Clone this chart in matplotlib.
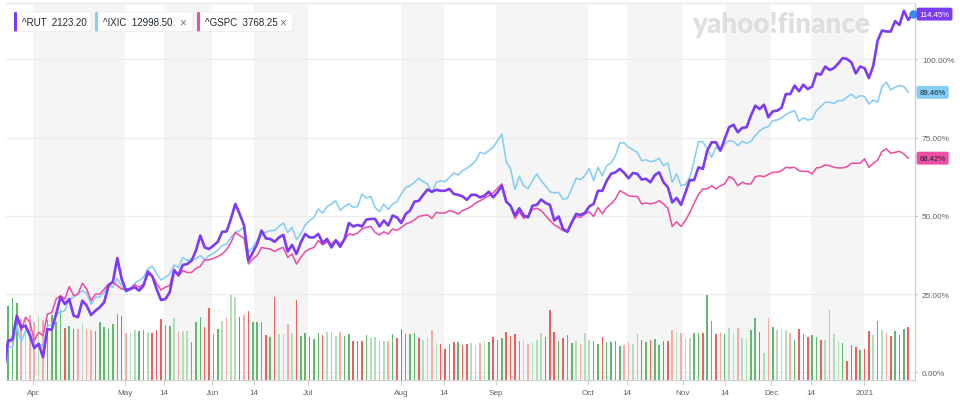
import numpy as np
import pandas as pd
import matplotlib
matplotlib.use("Agg")
import matplotlib.pyplot as plt
from matplotlib.patches import FancyBboxPatch
import matplotlib.transforms as mtransforms

plt.rcParams['font.family'] = ['Liberation Sans', 'DejaVu Sans']

# ---------------- data ----------------
holidays = ["2020-04-10", "2020-05-25", "2020-07-03", "2020-09-07",
            "2020-11-26", "2020-12-25", "2021-01-01"]
dates = pd.bdate_range("2020-03-23", "2021-01-15")
dates = dates[~dates.isin(pd.to_datetime(holidays))]

tick_dates = ["2020-04-01", "2020-05-01", "2020-05-14", "2020-06-01", "2020-06-14",
              "2020-07-01", "2020-08-01", "2020-08-14", "2020-09-01", "2020-10-01",
              "2020-10-14", "2020-11-01", "2020-11-14", "2020-12-01", "2020-12-14",
              "2021-01-01"]
tick_labels = ["Apr", "May", "14", "Jun", "14", "Jul", "Aug", "14", "Sep", "Oct",
               "14", "Nov", "14", "Dec", "14", "2021"]
shaded_spans = [("2020-04-01", "2020-05-01"), ("2020-05-14", "2020-06-01"),
                ("2020-06-14", "2020-07-01"), ("2020-08-01", "2020-08-14"),
                ("2020-09-01", "2020-10-01"), ("2020-10-14", "2020-11-01"),
                ("2020-11-14", "2020-12-01"), ("2020-12-14", "2021-01-01")]

symbols = ["^RUT", "^IXIC", "^GSPC"]
last_prices = ["2123.20", "12998.50", "3768.25"]

# percent change since start
rut = [0,
       10.1, 10.6, 18.1, 14.4, 14.9, 11.7, 7.7, 9.1, 4.8, 13.8, 13.6, 18.6, 24.0, 21.8, 23.4,
       18.1, 17.6, 22.9, 21.3, 18.3, 19.7, 20.8, 22.4, 27.7, 29.0, 36.5, 29.8, 26.1, 26.6,
       27.2, 26.1, 27.7, 32.2, 30.7, 26.6, 23.1, 23.4, 25.6, 32.5, 31.1, 34.3, 34.6, 35.7,
       38.9, 43.7, 39.9, 39.4, 40.5, 41.7, 44.9, 45.0,
       49.0, 53.8, 50.6, 46.9, 35.7, 38.3, 41.0, 45.3, 42.8, 42.6, 41.7, 43.1, 43.9, 38.6,
       40.7, 37.8, 41.5, 44.2, 43.1, 43.1, 44.2, 41.3, 42.6, 39.9, 42.1, 40.1, 42.6, 47.7,
       46.6, 47.1, 46.6, 48.8, 49.0, 49.0, 46.6, 48.5, 46.9, 50.1, 49.5, 47.7, 50.6, 51.7,
       54.5, 54.8, 56.7, 58.4, 57.7, 58.3, 58.0, 58.0, 58.6, 57.0, 56.7,
       56.2, 55.1, 56.7, 56.7, 55.9, 56.4, 57.7, 55.9, 57.5, 59.6, 54.5, 53.2, 50.1, 52.4,
       50.1, 49.5, 53.2, 53.5, 55.2, 54.1, 53.5, 48.5, 49.8, 45.8, 44.9, 47.9, 50.6, 50.3,
       50.9, 53.0, 53.8, 58.0, 58.0, 61.2, 63.4, 63.9, 65.0, 63.7, 62.0, 63.7, 63.4, 61.6,
       61.8, 60.7, 63.0, 63.9, 60.7, 59.1, 54.3, 55.7, 53.5, 57.3,
       61.4, 61.4, 65.5, 65.0, 70.8, 73.5, 73.5, 70.8, 74.5, 78.3, 79.1, 76.7, 78.1, 78.3,
       82.0, 85.2, 84.1, 85.5, 81.5, 83.4, 83.6, 84.5, 88.9, 88.9, 91.6, 89.8, 91.9, 90.5,
       91.3, 95.5, 95.1, 97.7, 96.6, 97.2, 98.7, 100.4, 100.1, 99.0, 95.5, 97.7, 97.2, 94.0,
       98.0, 106.0, 109.2, 108.9, 108.9, 112.2, 111.0, 115.5, 112.6, 114.45]

ixic = [0,
        8.3, 8.0, 14.9, 9.6, 13.3, 12.8, 8.5, 9.1, 8.5, 14.9, 15.1, 18.6, 19.2, 19.7, 23.4,
        24.0, 25.0, 26.1, 25.2, 21.8, 24.0, 24.0, 25.6, 27.7, 27.2, 30.0, 27.7, 25.6, 26.6,
        28.4, 29.3, 30.4, 33.0, 33.9, 31.6, 29.5, 30.4, 31.4, 34.3, 33.5, 36.7, 35.7, 36.2,
        36.2, 37.3, 36.0, 37.3, 38.0, 39.1, 40.5, 41.0,
        43.1, 44.7, 45.3, 46.3, 38.3, 39.9, 42.1, 44.7, 44.7, 45.3, 45.3, 46.6, 47.7, 44.7,
        46.3, 42.4, 44.2, 47.1, 48.5, 49.5, 52.2, 50.9, 53.0, 53.8, 54.8, 51.7, 53.0, 53.8,
        52.7, 53.0, 57.0, 55.6, 56.2, 52.7, 51.3, 53.8, 52.0, 53.8, 54.5, 57.0, 59.1, 59.6,
        60.7, 62.0, 60.9, 60.2, 57.3, 60.7, 61.2, 60.9, 62.3, 63.7, 63.0,
        64.4, 65.2, 66.2, 67.6, 70.3, 69.8, 70.8, 71.9, 74.0, 76.1, 67.3, 65.0, 58.4, 62.6,
        59.6, 58.6, 61.2, 63.4, 61.2, 59.6, 57.7, 57.3, 57.5, 55.2, 55.6, 58.6, 62.0, 61.6,
        62.8, 65.2, 61.2, 65.5, 62.8, 66.0, 66.9, 69.2, 73.3, 73.3, 71.9, 71.1, 70.3, 67.6,
        67.9, 67.3, 67.6, 68.4, 66.0, 66.9, 60.7, 63.4, 59.6, 60.0,
        62.3, 67.6, 73.7, 73.7, 71.4, 68.7, 71.9, 70.8, 72.9, 74.0, 73.8, 72.4, 73.8, 73.2,
        73.8, 75.6, 77.2, 78.1, 78.5, 80.4, 80.6, 81.3, 82.3, 83.1, 83.6, 80.2, 81.3, 80.6,
        80.9, 83.6, 84.9, 86.3, 86.3, 85.9, 86.8, 86.8, 87.9, 88.9, 87.6, 88.4, 88.1, 85.7,
        87.0, 86.3, 91.3, 92.7, 90.2, 91.1, 91.6, 91.3, 89.46]

gspc = [0,
        9.6, 10.1, 18.1, 13.3, 17.6, 16.0, 10.1, 12.8, 11.7, 18.6, 19.0, 23.4, 24.5, 23.4,
        27.4, 24.5, 25.0, 28.5, 26.6, 22.9, 25.0, 25.0, 26.6, 28.2, 28.8, 27.7, 26.6, 26.6,
        26.9, 28.0, 27.2, 28.2, 31.1, 30.9, 28.4, 26.3, 27.2, 27.7, 33.0, 30.7, 32.5, 31.9,
        31.9, 33.2, 33.9, 35.9, 35.9, 36.4, 37.0, 37.8, 39.2,
        41.5, 44.7, 43.7, 42.8, 34.6, 36.2, 37.3, 39.9, 39.6, 39.4, 38.6, 39.4, 39.9, 36.7,
        37.8, 34.6, 36.7, 38.6, 39.4, 39.9, 42.1, 40.7, 41.7, 41.0, 42.4, 41.0, 42.4, 44.2,
        43.9, 44.5, 45.8, 46.3, 46.6, 44.7, 43.9, 44.9, 44.2, 45.8, 45.3, 46.3, 47.4, 47.9,
        48.7, 49.8, 50.1, 50.3, 49.2, 51.1, 50.9, 50.9, 51.7, 51.3, 50.6,
        51.7, 52.2, 53.0, 54.1, 54.8, 55.6, 56.4, 57.3, 58.8, 60.2, 54.8, 53.0, 49.2, 51.3,
        49.2, 50.1, 52.0, 52.4, 51.7, 50.1, 48.5, 47.1, 46.3, 45.3, 44.9, 48.1, 49.8, 49.5,
        50.6, 51.3, 49.8, 52.7, 50.6, 52.7, 53.8, 55.4, 58.0, 57.3, 56.4, 56.2, 56.2, 53.8,
        54.1, 53.8, 54.1, 54.8, 53.8, 52.4, 46.6, 48.1, 46.6, 48.5,
        51.0, 54.0, 56.8, 58.6, 58.6, 59.6, 58.6, 59.6, 60.2, 62.5, 61.8, 59.6, 60.7, 60.2,
        60.2, 62.5, 62.8, 62.5, 63.2, 63.9, 63.9, 64.4, 65.5, 65.3, 65.5, 64.4, 64.2, 64.2,
        63.4, 65.3, 65.5, 66.3, 66.0, 65.5, 65.3, 65.3, 65.7, 66.8, 66.8, 66.8, 68.2, 65.5,
        66.8, 67.8, 70.6, 71.4, 70.0, 70.3, 70.6, 69.8, 68.42]

# volume (relative units) and bar direction: G/g up (dark/light), R/r down (dark/light)
volume = [80,
          74, 82, 77, 61, 60, 65, 58, 64, 60, 60, 65, 58, 70, 52, 54, 51, 51, 57, 51, 50,
          49, 58, 53, 51, 56, 66, 64, 47, 47, 50, 49, 50, 48, 47, 50, 61, 55, 54, 62, 49,
          49, 49, 38, 58, 63, 53, 72, 46, 51, 59, 63, 85, 83, 63, 65, 69, 58, 58, 58, 45,
          43, 83, 46, 46, 56, 47, 80, 44, 47, 43, 41, 47,
          45, 48, 48, 44, 48, 44, 46, 39, 39, 39, 45, 42, 43, 39, 39, 39, 46, 42, 51, 46,
          46, 47, 42, 40, 42, 50, 37, 36, 31, 36, 38, 38, 35, 36, 37, 35, 37, 39, 38, 43,
          40, 42, 48, 44, 46, 39, 40, 36, 38, 40, 47, 43, 70, 48, 39, 42, 45, 37, 39, 36,
          47, 40, 39, 36, 43, 38, 38, 39, 34, 35, 38, 36, 46,
          40, 38, 40, 41, 35, 39, 39, 50, 48, 47, 42, 42, 47, 47, 47, 85, 59, 46, 48, 46,
          52, 47, 52, 42, 42, 50, 62, 48, 27, 62, 53, 50, 51, 50, 47, 40, 51, 46, 43, 45,
          43, 40, 40, 70, 46, 39, 37, 19, 35, 33, 30, 31, 49, 45, 59, 50, 47, 44, 49, 45,
          51, 53]
vol_dir = list(
    "G"
    "GGGrgrrgrG" "GGGRGRrgrr" "GGGGGGRrgg" "GGgRRRGGgr" "ggGGGRRGGg" "rggRrRGGGR" "GRggrgRGGR" "GG"
    "RgrgrGGRRR" "GggrgrGRRG" "GGRggrgRRG" "RGRRggrgGR" "GGRRRGgrgg" "gRRRGRGGgr" "ggGGRGGGGr" "rgr"
    "RGRGGRRrgr" "ggGGRGGRrG" "ggrggGGRgr" "GgggrGRGRG" "GRgrggGRRR" "GRRgGgrRGR" "GR")

# ---------------- layout ----------------
W, H = 960, 406
PL, PR, PB, PT = 6, 915, 381, 4
C_RUT, C_IXIC, C_GSPC = "#7b3cf3", "#84cdf6", "#ec50a6"
vol_colors = {"G": "#5fba6e", "g": "#b2deb8", "R": "#ef605d", "r": "#f6adaa"}
TXT = "#5b636a"

fig = plt.figure(figsize=(W / 100, H / 100), dpi=100)
axv = fig.add_axes([PL / W, 1 - PB / H, (PR - PL) / W, (PB - PT) / H])
ax = axv.twinx()

idx = np.arange(len(dates))
ords = np.array([d.toordinal() for d in dates])


def pos(d):
    return np.interp(pd.Timestamp(d).toordinal(), ords, idx) - 0.3


axv.set_xlim(0.53, 208.55)
axv.set_ylim(0, 377)
ax.set_ylim(-2.46, 118.0)

# background bands
for a, b in shaded_spans:
    axv.axvspan(pos(a), pos(b), color="#f5f5f5", lw=0, zorder=0)

# horizontal grid (price levels), drawn below volume bars
gtrans = mtransforms.blended_transform_factory(axv.transAxes, ax.transData)
for g in [0, 25, 50, 75, 100]:
    axv.plot([0, 1], [g, g], transform=gtrans, color="#ececec", lw=0.8, zorder=0.5)

# watermark
axv.text(692 / W, 1 - 33.5 / H, "yahoo!finance", transform=fig.transFigure,
         fontsize=20, fontweight="heavy", family=["Lato", "Liberation Sans"],
         color="#dfdfe2", zorder=0.6)

# volume bars
axv.bar(np.arange(len(volume)), volume, width=0.36,
        color=[vol_colors[c] for c in vol_dir], lw=0, zorder=1)

# price lines
ax.plot(np.arange(len(ixic)), ixic, color=C_IXIC, lw=1.15, zorder=3, solid_joinstyle="round")
ax.plot(np.arange(len(gspc)), gspc, color=C_GSPC, lw=1.15, zorder=4, solid_joinstyle="round")
ax.plot(np.arange(len(rut)), rut, color=C_RUT, lw=1.9, zorder=5, solid_joinstyle="round")
ax.plot([len(rut) - 1], [rut[-1]], "o", color="#2f8ef2", ms=5, zorder=6, clip_on=False)

# axes styling
for a_ in (axv, ax):
    a_.spines["left"].set_visible(False)
    a_.spines["top"].set_color("#e6e6e6")
    a_.spines["top"].set_linewidth(0.8)
axv.spines["right"].set_visible(False)
ax.spines["bottom"].set_visible(False)
axv.spines["bottom"].set_color("#cfcfcf")
axv.spines["bottom"].set_linewidth(0.8)
ax.spines["right"].set_color("#c9c9c9")
ax.spines["right"].set_linewidth(0.8)

axv.set_yticks([])
axv.set_xticks([pos(d) for d in tick_dates])
axv.set_xticklabels(tick_labels)
axv.tick_params(axis="x", length=3.5, width=0.8, color="#cfcfcf", labelsize=5.9,
                labelcolor=TXT, pad=3)

ax.set_yticks([0, 25, 50, 75, 100])
ax.set_yticklabels([f"{v:.2f}%" for v in [0, 25, 50, 75, 100]])
ax.tick_params(axis="y", length=2.5, width=0.8, color="#c9c9c9", labelsize=5.9,
               labelcolor=TXT, pad=2.5)

# last-value tags on the right
ltrans = mtransforms.blended_transform_factory(ax.transAxes, ax.transData)
for val, col, tc in [(rut[-1], C_RUT, "white"), (ixic[-1], C_IXIC, "#1d2228"),
                     (gspc[-1], C_GSPC, "#1d2228")]:
    ax.text(1.0 + 4.5 / (PR - PL), val, f"{val:.2f}%", transform=ltrans, fontsize=5.6,
            color=tc, va="center", ha="left", zorder=10, clip_on=False,
            bbox=dict(boxstyle="round,pad=0.38,rounding_size=0.25", fc=col, ec="none"))

# legend chips (overlay in pixel coordinates)
ov = fig.add_axes([0, 0, 1, 1], zorder=20)
ov.set_xlim(0, W)
ov.set_ylim(H, 0)
ov.axis("off")
chips = [(14, 91, C_RUT, False), (95, 193, C_IXIC, True), (197, 293, C_GSPC, True)]
for (x0, x1, col, closable), sym, price in zip(chips, symbols, last_prices):
    ov.add_patch(FancyBboxPatch((x0 + 0.5, 13.8), x1 - x0, 19.5,
                                boxstyle="round,pad=0,rounding_size=3",
                                fc="#000000", alpha=0.07, ec="none"))
    ov.add_patch(FancyBboxPatch((x0, 13), x1 - x0, 19.5,
                                boxstyle="round,pad=0,rounding_size=3",
                                fc="white", ec="#ececec", lw=0.5))
    ov.add_patch(FancyBboxPatch((x0, 13), 3, 19.5,
                                boxstyle="round,pad=0,rounding_size=1.2",
                                fc=col, ec="none"))
    ov.text(x0 + 8, 23, f"{sym}  {price}", fontsize=7, color="#232a31",
            va="center", ha="left")
    if closable:
        ov.text(x1 - 10, 23, "\u00d7", fontsize=8.5, color="#6e7780",
                va="center", ha="center")

fig.savefig("out.png", dpi=100)
